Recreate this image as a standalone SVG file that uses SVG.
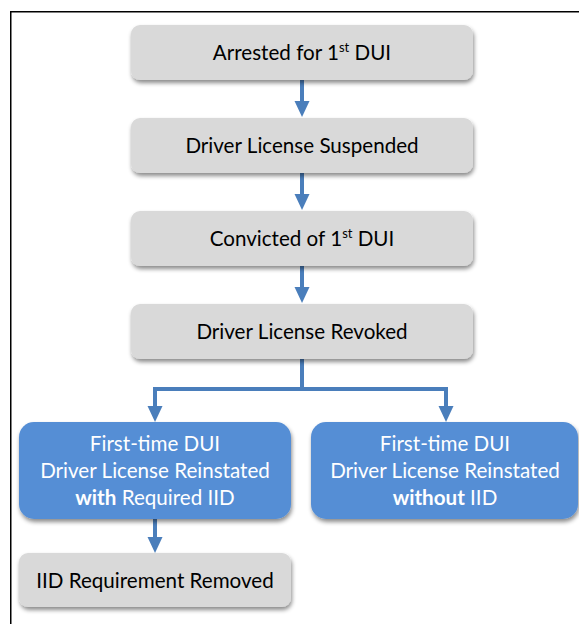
<svg xmlns="http://www.w3.org/2000/svg" width="579" height="624" viewBox="0 0 579 624">
  <style>
    .gray { fill: #d9d9d9; }
    .blue { fill: #558ed5; }
    .lbl { font-family: Lato, "Open Sans", "Liberation Sans", sans-serif; font-size: 20.6px; text-anchor: middle; }
    .dark { fill: #000000; }
    .light { fill: #ffffff; }
    .wire { fill: none; stroke: #4a7ebb; stroke-width: 4; }
    .bold { font-weight: bold; }
  </style>
  <defs>
    <filter id="shade" x="-10%" y="-20%" width="120%" height="150%">
      <feDropShadow dx="1" dy="3" stdDeviation="2" flood-color="#000000" flood-opacity="0.45"/>
    </filter>
    <marker id="head" markerUnits="userSpaceOnUse" markerWidth="16" markerHeight="16" refX="0" refY="8" orient="auto" viewBox="0 0 16 16">
      <path d="M0,0.5 L16,8 L0,15.5 Z" fill="#4a7ebb"/>
    </marker>
  </defs>

  <rect width="579" height="624" fill="#ffffff"/>
  <!-- page frame -->
  <path d="M10.75,624 V11.75 H579" fill="none" stroke="#000000" stroke-width="1.5"/>

  <!-- connectors -->
  <g id="connectors">
    <path class="wire" d="M302,80 V101" marker-end="url(#head)"/>
    <path class="wire" d="M302,173 V194" marker-end="url(#head)"/>
    <path class="wire" d="M302,266 V287" marker-end="url(#head)"/>
    <path class="wire" d="M302,359 V389"/>
    <path class="wire" d="M155,405 V389 H446 V405"/>
    <path class="wire" d="M155,405 V406" marker-end="url(#head)"/>
    <path class="wire" d="M446,405 V406" marker-end="url(#head)"/>
    <path class="wire" d="M155,519 V537" marker-end="url(#head)"/>
  </g>

  <g id="arrested">
    <rect class="gray" x="131" y="25" width="342" height="55" rx="9" filter="url(#shade)"/>
    <text class="lbl dark" x="302" y="60">Arrested for 1<tspan font-size="13" dy="-8">st</tspan><tspan dy="8"> DUI</tspan></text>
  </g>

  <g id="suspended">
    <rect class="gray" x="131" y="118" width="342" height="55" rx="9" filter="url(#shade)"/>
    <text class="lbl dark" x="302" y="153">Driver License Suspended</text>
  </g>

  <g id="convicted">
    <rect class="gray" x="131" y="211" width="342" height="55" rx="9" filter="url(#shade)"/>
    <text class="lbl dark" x="302" y="246">Convicted of 1<tspan font-size="13" dy="-8">st</tspan><tspan dy="8"> DUI</tspan></text>
  </g>

  <g id="revoked">
    <rect class="gray" x="131" y="304" width="342" height="55" rx="9" filter="url(#shade)"/>
    <text class="lbl dark" x="302" y="339">Driver License Revoked</text>
  </g>

  <g id="reinstated-with-iid">
    <rect class="blue" x="19" y="422" width="272" height="97" rx="15" filter="url(#shade)"/>
    <text class="lbl light" x="155" y="451">First-time DUI</text>
    <text class="lbl light" x="155" y="478">Driver License Reinstated</text>
    <text class="lbl light" x="155" y="505"><tspan class="bold">with</tspan> Required IID</text>
  </g>

  <g id="reinstated-without-iid">
    <rect class="blue" x="311" y="422" width="267" height="97" rx="15" filter="url(#shade)"/>
    <text class="lbl light" x="445" y="451">First-time DUI</text>
    <text class="lbl light" x="445" y="478">Driver License Reinstated</text>
    <text class="lbl light" x="445" y="505"><tspan class="bold">without</tspan> IID</text>
  </g>

  <g id="iid-removed">
    <rect class="gray" x="19" y="553" width="272" height="54" rx="9" filter="url(#shade)"/>
    <text class="lbl dark" x="155" y="588">IID Requirement Removed</text>
  </g>
</svg>
